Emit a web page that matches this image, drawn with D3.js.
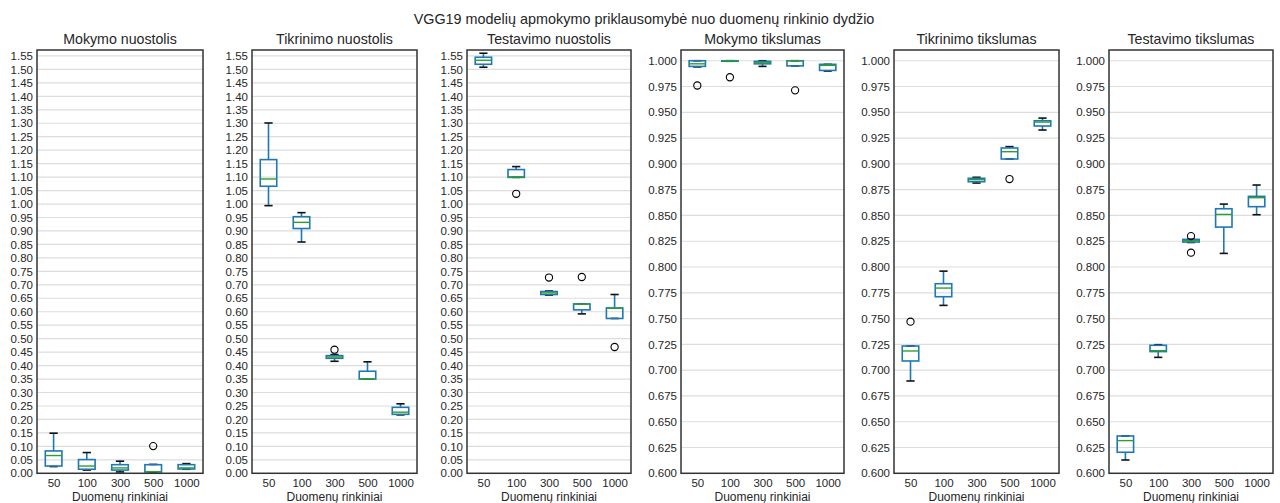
<!DOCTYPE html>
<html><head><meta charset="utf-8">
<script src="https://cdn.jsdelivr.net/npm/d3@7"></script>
<style>
body{margin:0;background:#fff;}
text{font-family:"Liberation Sans",Arial,sans-serif;fill:#262626;}
</style></head>
<body><svg id="c" width="1280" height="503"></svg>
<script>
const categories = ["50","100","300","500","1000"];
const mainTitle = "VGG19 modelių apmokymo priklausomybė nuo duomenų rinkinio dydžio";
const panelTitles = ["Mokymo nuostolis","Tikrinimo nuostolis","Testavimo nuostolis","Mokymo tikslumas","Tikrinimo tikslumas","Testavimo tikslumas"];
const xLabel = "Duomenų rinkiniai";

// [whiskerLow, q1, median, q3, whiskerHigh] per category
const mokymoNuostolis = [[0.025,0.027,0.066,0.083,0.149],[0.012,0.015,0.027,0.051,0.077],[0.005,0.012,0.020,0.032,0.045],[0.004,0.005,0.006,0.032,0.033],[0.015,0.016,0.020,0.032,0.036]];
const mokymoNuostolisOut = [[],[],[],[0.101],[]];
const tikrinimoNuostolis = [[0.994,1.066,1.093,1.165,1.301],[0.859,0.909,0.932,0.953,0.968],[0.416,0.427,0.432,0.437,0.441],[0.350,0.350,0.351,0.379,0.414],[0.217,0.219,0.227,0.245,0.258]];
const tikrinimoNuostolisOut = [[],[],[0.459],[],[]];
const testavimoNuostolis = [[1.508,1.519,1.534,1.545,1.560],[1.099,1.099,1.101,1.128,1.139],[0.662,0.664,0.670,0.675,0.677],[0.592,0.607,0.628,0.629,0.629],[0.575,0.575,0.613,0.614,0.664]];
const testavimoNuostolisOut = [[],[1.038],[0.727],[0.729],[0.469]];
const mokymoTikslumas = [[0.994,0.9945,0.997,1.000,1.000],[0.9995,0.9995,1.000,1.000,1.000],[0.9945,0.997,0.998,0.9994,1.000],[0.995,0.995,1.000,1.000,1.000],[0.990,0.9906,0.9955,0.9965,0.9965]];
const mokymoTikslumasOut = [[0.976],[0.984],[],[0.9713],[]];
const tikrinimoTikslumas = [[0.6895,0.7089,0.7186,0.7234,0.7234],[0.7628,0.7712,0.7796,0.7838,0.796],[0.8814,0.8827,0.8847,0.886,0.887],[0.9047,0.9047,0.9118,0.9154,0.9167],[0.9328,0.9367,0.9405,0.9418,0.9444]];
const tikrinimoTikslumasOut = [[0.747],[],[],[0.8853],[]];
const testavimoTikslumas = [[0.6129,0.6204,0.6317,0.6362,0.6362],[0.7124,0.718,0.7189,0.7241,0.7247],[0.8238,0.8242,0.8255,0.8268,0.827],[0.8132,0.8387,0.851,0.8565,0.861],[0.8507,0.8585,0.8672,0.8685,0.8795]];
const testavimoTikslumasOut = [[],[],[0.830,0.8139],[],[]];

const lossTicks = d3.range(0, 32).map(d => d*5/100);
const accTicks = d3.range(0, 17).map(d => 0.6 + d*0.025);

const panels = [
  {stats: mokymoNuostolis, out: mokymoNuostolisOut, domain:[0,1.572], ticks: lossTicks, fmt: d3.format(".2f")},
  {stats: tikrinimoNuostolis, out: tikrinimoNuostolisOut, domain:[0,1.572], ticks: lossTicks, fmt: d3.format(".2f")},
  {stats: testavimoNuostolis, out: testavimoNuostolisOut, domain:[0,1.572], ticks: lossTicks, fmt: d3.format(".2f")},
  {stats: mokymoTikslumas, out: mokymoTikslumasOut, domain:[0.6,1.0104], ticks: accTicks, fmt: d3.format(".3f")},
  {stats: tikrinimoTikslumas, out: tikrinimoTikslumasOut, domain:[0.6,1.0104], ticks: accTicks, fmt: d3.format(".3f")},
  {stats: testavimoTikslumas, out: testavimoTikslumasOut, domain:[0.6,1.0104], ticks: accTicks, fmt: d3.format(".3f")}
];
const lefts = [37,252,467,681,894,1109];
const rights = [203,417,631,844,1059,1273];
const plotTop = 50, plotBottom = 473.3;

const svg = d3.select("#c");
svg.append("text").attr("x",644).attr("y",23.5).attr("text-anchor","middle")
  .style("font-size","14.4px").text(mainTitle);

const BLUE = "#1f77b4", GREEN = "#2ca02c";

panels.forEach((p,i) => {
  const L = lefts[i], R = rights[i];
  const x = d3.scaleLinear().domain([0.5,5.5]).range([L,R]);
  const y = d3.scaleLinear().domain(p.domain).range([plotBottom, plotTop]);
  const g = svg.append("g");
  g.selectAll("line.grid").data(p.ticks).enter().append("line")
    .attr("x1",L).attr("x2",R).attr("y1",d=>y(d)).attr("y2",d=>y(d))
    .attr("stroke","#dddddd").attr("stroke-width",1.2);
  const ya = g.append("g").attr("transform",`translate(${L},0)`)
    .call(d3.axisLeft(y).tickValues(p.ticks).tickFormat(p.fmt).tickSize(0).tickPadding(4));
  ya.select(".domain").remove();
  ya.selectAll("text").style("font-size","11.5px").style("font-family","Liberation Sans, Arial, sans-serif").attr("fill","#262626");
  const xa = g.append("g").attr("transform",`translate(0,${plotBottom})`)
    .call(d3.axisBottom(x).tickValues([1,2,3,4,5]).tickFormat((d,k)=>categories[k]).tickSize(0).tickPadding(6));
  xa.select(".domain").remove();
  xa.selectAll("text").style("font-size","11.5px").style("font-family","Liberation Sans, Arial, sans-serif").attr("fill","#262626");
  const bw = x(1.25) - x(1);
  const cw = x(1.125) - x(1);
  p.stats.forEach((s,k) => {
    const cx = x(k+1);
    const [lo,q1,md,q3,hi] = s;
    g.append("line").attr("x1",cx).attr("x2",cx).attr("y1",y(q1)).attr("y2",y(lo)).attr("stroke",BLUE).attr("stroke-width",1.6);
    g.append("line").attr("x1",cx).attr("x2",cx).attr("y1",y(q3)).attr("y2",y(hi)).attr("stroke",BLUE).attr("stroke-width",1.6);
    g.append("line").attr("x1",cx-cw).attr("x2",cx+cw).attr("y1",y(lo)).attr("y2",y(lo)).attr("stroke","#111").attr("stroke-width",1.6);
    g.append("line").attr("x1",cx-cw).attr("x2",cx+cw).attr("y1",y(hi)).attr("y2",y(hi)).attr("stroke","#111").attr("stroke-width",1.6);
    g.append("rect").attr("x",cx-bw).attr("y",y(q3)).attr("width",2*bw).attr("height",Math.max(0.5,y(q1)-y(q3)))
      .attr("fill","none").attr("stroke",BLUE).attr("stroke-width",1.6);
    g.append("line").attr("x1",cx-bw).attr("x2",cx+bw).attr("y1",y(md)).attr("y2",y(md)).attr("stroke",GREEN).attr("stroke-width",1.4);
    p.out[k].forEach(o => {
      g.append("circle").attr("cx",cx).attr("cy",y(o)).attr("r",3.6).attr("fill","none").attr("stroke","#000").attr("stroke-width",1.1);
    });
  });
  g.append("rect").attr("x",L).attr("y",plotTop).attr("width",R-L).attr("height",plotBottom-plotTop)
    .attr("fill","none").attr("stroke","#333").attr("stroke-width",1.5);
  g.append("text").attr("x",(L+R)/2).attr("y",44).attr("text-anchor","middle").style("font-size","14.2px").text(panelTitles[i]);
  g.append("text").attr("x",(L+R)/2).attr("y",500.5).attr("text-anchor","middle").style("font-size","12px").text(xLabel);
});
</script></body></html>
